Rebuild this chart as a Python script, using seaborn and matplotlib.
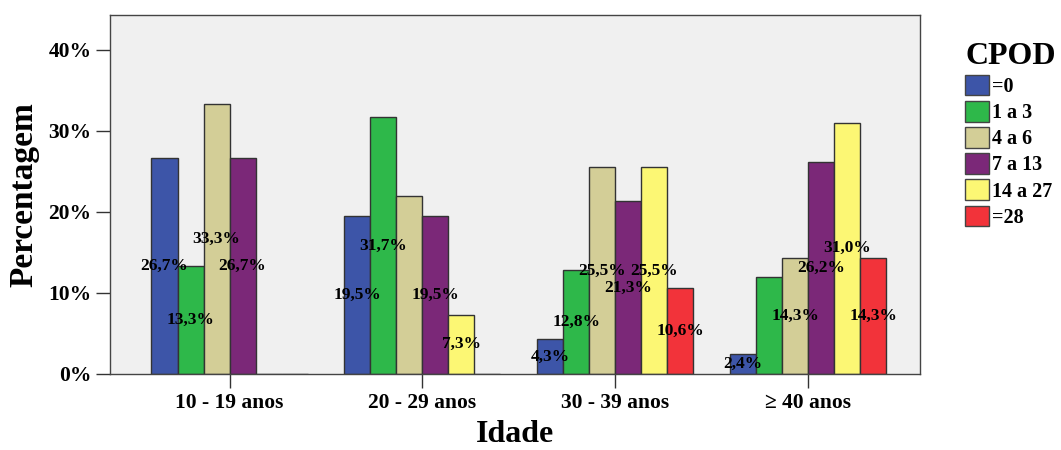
import matplotlib
matplotlib.use("Agg")
import matplotlib.pyplot as plt
import seaborn as sns
import pandas as pd
from matplotlib.ticker import FuncFormatter

# Age groups and CPOD classes
idades = ["10 - 19 anos", "20 - 29 anos", "30 - 39 anos", "\u2265 40 anos"]
classes = ["=0", "1 a 3", "4 a 6", "7 a 13", "14 a 27", "=28"]

# Percentage of each CPOD class inside each age group (one list per class)
pct_0 = [26.7, 19.5, 4.3, 2.4]
pct_1a3 = [13.3, 31.7, 12.8, 11.9]
pct_4a6 = [33.3, 22.0, 25.5, 14.3]
pct_7a13 = [26.7, 19.5, 21.3, 26.2]
pct_14a27 = [0.0, 7.3, 25.5, 31.0]
pct_28 = [0.0, 0.0, 10.6, 14.3]

# Bars whose value is printed (same order as above)
show_0 = [True, True, True, True]
show_1a3 = [True, True, True, False]
show_4a6 = [True, False, True, True]
show_7a13 = [True, True, True, True]
show_14a27 = [False, True, True, True]
show_28 = [False, False, True, True]

series = [pct_0, pct_1a3, pct_4a6, pct_7a13, pct_14a27, pct_28]
shown = [show_0, show_1a3, show_4a6, show_7a13, show_14a27, show_28]

cores = ["#3d55a8", "#2eb84a", "#d3ce97", "#7b2878", "#fcf774", "#f2333a"]

rows = []
for cls, vals in zip(classes, series):
    for idade, v in zip(idades, vals):
        rows.append({"Idade": idade, "CPOD": cls, "Percentagem": v})
df = pd.DataFrame(rows)

sns.set_style("white")
plt.rcParams["font.family"] = ["Liberation Serif", "DejaVu Serif"]
plt.rcParams["font.weight"] = "bold"
for key in ["text.color", "axes.labelcolor", "xtick.color", "ytick.color"]:
    plt.rcParams[key] = "black"

fig = plt.figure(figsize=(10.61, 4.5), dpi=100)
ax = fig.add_axes([0.1037, 0.169, 0.7633, 0.798])
ax.set_facecolor("#f0f0f0")

sns.barplot(data=df, x="Idade", y="Percentagem", hue="CPOD",
            order=idades, hue_order=classes, palette=dict(zip(classes, cores)),
            width=0.81, gap=0, edgecolor="#333333", linewidth=1.0,
            saturation=1, errorbar=None, ax=ax)

# Value labels centred in each bar
for cont, vals, flags in zip(ax.containers, series, shown):
    labels = [(f"{v:.1f}".replace(".", ",") + "%") if f else "" for v, f in zip(vals, flags)]
    ax.bar_label(cont, labels=labels, label_type="center",
                 fontsize=12.5, fontweight="bold", color="black")

ax.set_xlim(-0.62, 3.58)
ax.set_ylim(0, 44.3)
ax.set_yticks([0, 10, 20, 30, 40])
ax.yaxis.set_major_formatter(FuncFormatter(lambda v, p: f"{v:.0f}%"))
ax.tick_params(axis="both", direction="out", length=10, width=1.0,
               color="#333333", labelcolor="black", labelsize=15.5,
               left=True, bottom=True)
for lab in ax.get_xticklabels() + ax.get_yticklabels():
    lab.set_fontweight("bold")

ax.set_ylabel("Percentagem", fontsize=24, fontweight="bold", labelpad=6)
ax.set_xlabel("Idade", fontsize=23, fontweight="bold", labelpad=5)

for sp in ax.spines.values():
    sp.set_visible(True)
    sp.set_color("#444444")
    sp.set_linewidth(1.0)

handles, labels = ax.get_legend_handles_labels()
leg = ax.legend(handles, labels, title="CPOD", loc="upper left",
                bbox_to_anchor=(0.902, 0.925), bbox_transform=fig.transFigure,
                frameon=False, fontsize=14.5, title_fontproperties={"size": 23, "weight": "bold"},
                handlelength=1.2, handleheight=1.2, handletextpad=0.15,
                labelspacing=0.2, borderaxespad=0)
leg._legend_box.align = "left"
for h in leg.legend_handles:
    h.set_edgecolor("#444444")

fig.savefig("out.png", dpi=100)
